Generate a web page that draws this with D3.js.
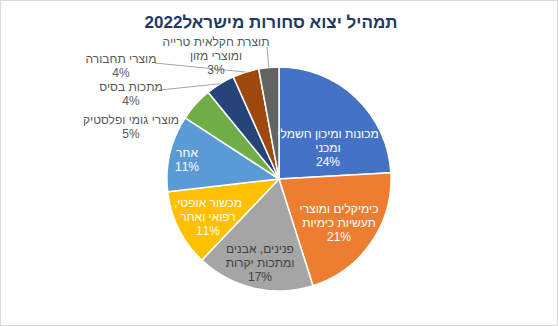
<!DOCTYPE html>
<html><head><meta charset="utf-8">
<script src="https://cdn.jsdelivr.net/npm/d3@7"></script>
<style>
html,body{margin:0;padding:0;background:#fff;}
svg{display:block;font-family:"Liberation Sans",Arial,sans-serif;}
</style></head>
<body><svg id="c" width="558" height="326"></svg>
<script>
const title = "תמהיל יצוא סחורות מישראל2022";
const categories = [
  ["מכונות ומיכון חשמלי","ומכני"],
  ["כימיקלים ומוצרי","תעשיות כימיות"],
  ["פנינים, אבנים","ומתכות יקרות"],
  ["מכשור אופטי,","רפואי ואחר"],
  ["אחר"],
  ["מוצרי גומי ופלסטיק"],
  ["מתכות בסיס"],
  ["מוצרי תחבורה"],
  ["תוצרת חקלאית טרייה","ומוצרי מזון"]
];
const values = [24.1, 21.0, 17.0, 11.1, 11.0, 4.9, 4.2, 3.8, 2.9];
const colors = ["#4472C4","#ED7D31","#A5A5A5","#FFC000","#5B9BD5","#70AD47","#264478","#9E480E","#636363"];

// label layout (offsets from pie centre, baseline of last line) and text colours
const labelPos = [[49,-13],[60,62],[-19,102],[-71,56],[-92,-8],[-148,-41],[-148,-74],[-158,-102],[-63,-105]];
const labelColor = ["#fff","#fff","#404040","#fff","#fff","#595959","#595959","#595959","#595959"];
const leaderStart = [null,null,null,null,null,null,[-119,-89],[-124,-116],[-12,-132]];

const W = 558, H = 326, cx = 279, cy = 179, R = 112;
const svg = d3.select("#c");
svg.append("rect").attr("x",0.5).attr("y",0.5).attr("width",W-1).attr("height",H-1)
  .attr("fill","#fff").attr("stroke","#D9D9D9");

svg.append("text").attr("x",271).attr("y",28).attr("text-anchor","middle")
  .attr("direction","rtl").attr("font-size","17px").attr("font-weight","bold")
  .attr("fill","#1F3864").text(title);

const pie = d3.pie().sort(null).value(d=>d).startAngle(0).endAngle(2*Math.PI);
const arcs = pie(values);
const arc = d3.arc().innerRadius(0).outerRadius(R);
const edge = d3.arc().innerRadius(R).outerRadius(R);
const g = svg.append("g").attr("transform",`translate(${cx},${cy})`);

g.selectAll("path.s").data(arcs).join("path").attr("class","s")
  .attr("d",arc).attr("fill",(d,i)=>colors[i]).attr("stroke","#fff").attr("stroke-width",1.5)
  .attr("stroke-linejoin","round");

// leader lines
arcs.forEach((d,i)=>{
  if(!leaderStart[i]) return;
  const p = edge.centroid(d);
  g.append("line").attr("x1",leaderStart[i][0]).attr("y1",leaderStart[i][1])
    .attr("x2",p[0]).attr("y2",p[1]).attr("stroke","#A6A6A6").attr("stroke-width",1);
});

// labels
arcs.forEach((d,i)=>{
  const lines = categories[i].slice();
  const pct = Math.round(values[i]) + "%";
  const n = lines.length + 1;
  const [lx,ly] = labelPos[i];
  const t = g.append("text").attr("font-size","12px").attr("fill",labelColor[i]).attr("text-anchor","middle");
  lines.forEach((s,k)=>{
    t.append("tspan").attr("x",lx).attr("y",ly-(n-1-k)*14).attr("direction","rtl")
      .attr("unicode-bidi","embed").text(s);
  });
  t.append("tspan").attr("x",lx).attr("y",ly).attr("direction","ltr").text(pct);
});
</script></body></html>
